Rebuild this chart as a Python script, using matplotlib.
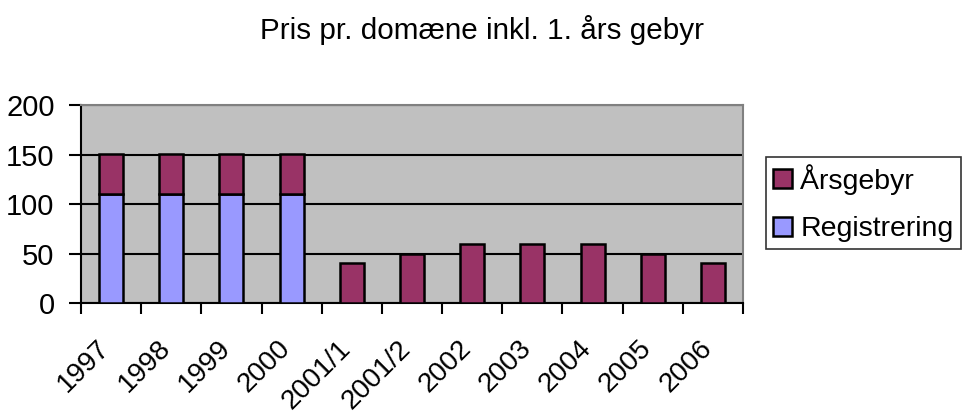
import matplotlib
matplotlib.use("Agg")
from matplotlib import pyplot as plt
from matplotlib import transforms
import numpy as np

plt.rcParams['font.family'] = ['Liberation Sans', 'DejaVu Sans']

categories = ["1997", "1998", "1999", "2000", "2001/1", "2001/2",
              "2002", "2003", "2004", "2005", "2006"]
registrering = [110, 110, 110, 110, 0, 0, 0, 0, 0, 0, 0]
aarsgebyr = [40, 40, 40, 40, 40, 50, 60, 60, 60, 50, 40]

fig = plt.figure(figsize=(9.65, 4.15), dpi=100)
ax = fig.add_axes([81/965, 1-303/415, (743-81)/965, (303-105)/415])
ax.set_facecolor("#C0C0C0")

x = np.arange(len(categories))
reg = np.array(registrering)
aar = np.array(aarsgebyr)
mask = reg > 0
ax.bar(x[mask], reg[mask], width=0.4, color="#9999FF", edgecolor="black",
       linewidth=1.8, label="Registrering", zorder=3)
ax.bar(x, aar, width=0.4, bottom=reg, color="#993366", edgecolor="black",
       linewidth=1.8, label="Årsgebyr", zorder=3)

ax.set_xlim(-0.5, len(categories) - 0.5)
ax.set_ylim(0, 200)
ax.set_yticks([0, 50, 100, 150, 200])
ax.yaxis.grid(True, color="black", linewidth=1.5, zorder=1)
ax.set_axisbelow(True)

ax.set_xticks(np.arange(len(categories) + 1) - 0.5)
ax.set_xticklabels([])
ax.set_xticks(x, minor=True)
ax.set_xticklabels(categories, minor=True, rotation=45, ha="right",
                   va="center", rotation_mode="anchor", fontsize=20)
ax.tick_params(axis="x", which="minor", length=0, pad=30)
ax.tick_params(axis="x", which="major", length=8, width=1.5)
ax.tick_params(axis="y", length=9, width=1.5, labelsize=21, pad=10)

# shift x labels slightly left, like the original
shift = transforms.ScaledTranslation(-5/100, 0, fig.dpi_scale_trans)
for lab in ax.get_xticklabels(minor=True):
    lab.set_transform(lab.get_transform() + shift)

for s in ["left", "bottom"]:
    ax.spines[s].set_linewidth(1.5)
    ax.spines[s].set_color("black")
for s in ["top", "right"]:
    ax.spines[s].set_linewidth(1.5)
    ax.spines[s].set_color("#808080")

fig.text(0.5, 1-30/415, "Pris pr. domæne inkl. 1. års gebyr", ha="center",
         va="center", fontsize=21.3)

handles, labels = ax.get_legend_handles_labels()
leg = fig.legend(handles[::-1], labels[::-1], loc="upper left",
                 bbox_to_anchor=(766/965, 1-157/415), fontsize=20.5,
                 frameon=True, fancybox=False, handlelength=0.65,
                 handleheight=0.65, handletextpad=0.3, borderpad=0.25,
                 labelspacing=0.75, borderaxespad=0)
leg.get_frame().set_edgecolor("black")
leg.get_frame().set_linewidth(1.2)

fig.savefig("out.png", dpi=100)
